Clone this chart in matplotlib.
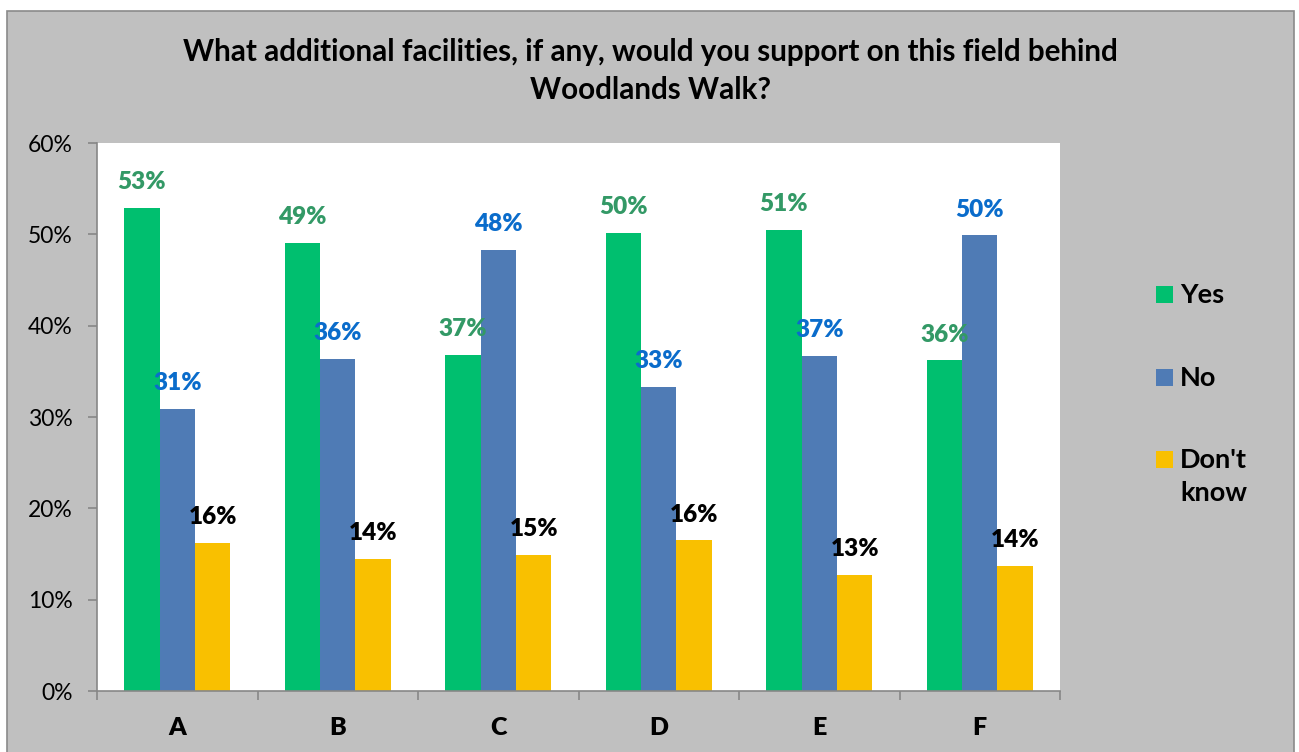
import matplotlib
matplotlib.use("Agg")
import matplotlib.pyplot as plt
import numpy as np
from matplotlib.patches import Rectangle
from matplotlib.ticker import FixedLocator, NullFormatter, FixedFormatter

plt.rcParams["font.family"] = ["Lato", "DejaVu Sans"]

categories = ["A", "B", "C", "D", "E", "F"]
series_names = ["Yes", "No", "Don't\nknow"]
yes_vals = [53, 49, 37, 50, 51, 36]
no_vals = [31, 36, 48, 33, 37, 50]
dk_vals = [16, 14, 15, 16, 13, 14]
# bar heights (labels are rounded)
yes_heights = [52.9, 49.1, 36.8, 50.2, 50.5, 36.2]
no_heights = [30.9, 36.4, 48.3, 33.3, 36.7, 49.9]
dk_heights = [16.2, 14.5, 14.9, 16.5, 12.7, 13.7]
y_ticks = [0, 10, 20, 30, 40, 50, 60]

bar_colors = ["#00BF6F", "#4F7BB5", "#F9C000"]
label_colors = ["#339966", "#0A6CCB", "#000000"]
bg_gray = "#C0C0C0"
spine_gray = "#878787"

W, H = 1299, 752
fig = plt.figure(figsize=(W / 100, H / 100), dpi=100)
fig.patch.set_facecolor("white")
fig.patches.append(Rectangle((7 / W, -0.02), (1294 - 7) / W, 1.02 - 11 / H,
                             transform=fig.transFigure, facecolor=bg_gray,
                             edgecolor="#8A8A8A", linewidth=1.2, zorder=-5))

ax = fig.add_axes([97 / W, (H - 691) / H, (1060 - 97) / W, (691 - 143) / H])
ax.set_facecolor("white")

x = np.arange(len(categories))
width = 0.221
groups = [(yes_heights, yes_vals), (no_heights, no_vals), (dk_heights, dk_vals)]
for i, (heights, vals) in enumerate(groups):
    pos = x + (i - 1) * width
    ax.bar(pos, heights, width=width, color=bar_colors[i], zorder=2)
    for px, h, v in zip(pos, heights, vals):
        ax.annotate(f"{v}%", (px, h), xytext=(0, 18.5), textcoords="offset points",
                    ha="center", va="center", fontsize=17.5, fontweight="heavy",
                    color=label_colors[i])

ax.set_xlim(-0.5, len(categories) - 0.5)
ax.set_ylim(0, 60)
ax.yaxis.set_major_locator(FixedLocator(y_ticks))
ax.set_yticklabels([f"{t}%" for t in y_ticks])
ax.xaxis.set_major_locator(FixedLocator(np.arange(-0.5, len(categories), 1.0)))
ax.xaxis.set_major_formatter(NullFormatter())
ax.xaxis.set_minor_locator(FixedLocator(x))
ax.xaxis.set_minor_formatter(FixedFormatter(categories))

for side in ["top", "right"]:
    ax.spines[side].set_visible(False)
for side in ["left", "bottom"]:
    ax.spines[side].set_color(spine_gray)
    ax.spines[side].set_linewidth(1.2)

ax.tick_params(axis="y", direction="out", length=6.5, width=1.2, color=spine_gray,
               labelsize=16.5, pad=11, labelcolor="black")
ax.tick_params(axis="x", which="major", direction="out", length=6.5, width=1.2,
               color=spine_gray)
ax.tick_params(axis="x", which="minor", length=0, pad=19, labelsize=18)
for lbl in ax.get_xticklabels(minor=True):
    lbl.set_fontweight("heavy")

fig.text(650 / W, 1 - 71 / H,
         "What additional facilities, if any, would you support on this field behind\nWoodlands Walk?",
         ha="center", va="center", fontsize=21.3, fontweight="bold", linespacing=1.45)

# legend on the right
legend_rows = [294, 377, 459]
for name, color, yc in zip(series_names, bar_colors, legend_rows):
    fig.patches.append(Rectangle((1156 / W, 1 - (yc + 8.5) / H), 17 / W, 17 / H,
                                 transform=fig.transFigure, facecolor=color,
                                 edgecolor="none", zorder=3))
    fig.text(1180 / W, 1 - (yc - 11) / H, name, ha="left", va="top",
             fontsize=19.5, fontweight="bold", linespacing=1.45)

fig.savefig("out.png", dpi=100)
